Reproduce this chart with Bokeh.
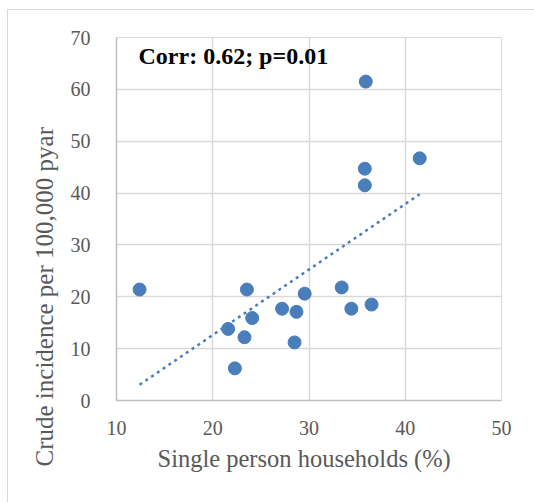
import numpy as np
from bokeh.plotting import figure
from bokeh.models import Label, FixedTicker, ColumnDataSource, Title
from bokeh.embed import file_html
from bokeh.resources import INLINE

# Data
single_person_pct = [12.4, 35.9, 35.8, 35.8, 41.5, 23.55, 21.6, 23.3, 24.1, 22.3,
                     27.2, 28.7, 28.5, 29.55, 33.4, 34.4, 36.5]
crude_incidence = [21.4, 61.5, 44.7, 41.5, 46.7, 21.4, 13.8, 12.2, 15.9, 6.2,
                   17.7, 17.1, 11.2, 20.6, 21.8, 17.7, 18.5]
x_ticks = [10, 20, 30, 40, 50]
y_ticks = [0, 10, 20, 30, 40, 50, 60, 70]
annotation_text = "Corr: 0.62; p=0.01"
x_title = "Single person households (%)"
y_title = "Crude incidence per 100,000 pyar"

BLUE = "#4a7ebb"
FONT = "Liberation Serif"

p = figure(width=534, height=502, x_range=(10, 50), y_range=(0, 70),
           output_backend="svg", toolbar_location=None,
           min_border_left=116, min_border_right=33,
           min_border_top=37, min_border_bottom=102)
# light grey chart-area border (left and top edges, as in the reference)
p.styles = {"background": "linear-gradient(#d9d9d9, #d9d9d9) 7px 9px / 1px 100% no-repeat, "
                          "linear-gradient(#d9d9d9, #d9d9d9) 7px 9px / 100% 1px no-repeat, white"}
p.border_fill_color = None
p.background_fill_color = "white"
p.outline_line_color = "#d9d9d9"

p.xaxis.axis_line_color = "#bfbfbf"
p.yaxis.axis_line_color = "#bfbfbf"
p.xaxis.axis_line_width = 1.5
p.yaxis.axis_line_width = 1.5
p.xaxis.major_tick_line_color = None
p.yaxis.major_tick_line_color = None
p.xaxis.minor_tick_line_color = None
p.yaxis.minor_tick_line_color = None
p.xaxis.major_label_text_font = FONT
p.yaxis.major_label_text_font = FONT
p.xaxis.major_label_text_font_style = "normal"
p.yaxis.major_label_text_font_style = "normal"
p.xaxis.major_label_text_font_size = "20px"
p.yaxis.major_label_text_font_size = "20px"
p.xaxis.major_label_text_color = "#595959"
p.yaxis.major_label_text_color = "#595959"

p.xaxis.ticker = FixedTicker(ticks=x_ticks)
p.yaxis.ticker = FixedTicker(ticks=y_ticks)
p.xaxis.major_label_standoff = 14
p.yaxis.major_label_standoff = 20

p.xgrid.ticker = FixedTicker(ticks=x_ticks)
p.ygrid.ticker = FixedTicker(ticks=y_ticks)
p.xgrid.grid_line_color = "#d9d9d9"
p.ygrid.grid_line_color = "#d9d9d9"
p.xgrid.grid_line_width = 1.5
p.ygrid.grid_line_width = 1.5

# Linear trendline (least squares fit of the data)
xs = np.array(single_person_pct)
ys = np.array(crude_incidence)
slope, intercept = np.polyfit(xs, ys, 1)
tx = [xs.min(), xs.max()]
ty = [slope * v + intercept for v in tx]
p.line(tx, ty, line_color=BLUE, line_width=2.5, line_dash="3 4")

src = ColumnDataSource(dict(x=single_person_pct, y=crude_incidence))
p.scatter("x", "y", source=src, size=13, fill_color=BLUE, line_color=BLUE)

p.add_layout(Label(x=22, y=332, x_units="screen", y_units="screen",
                   text=annotation_text, text_font=FONT, text_font_style="bold",
                   text_font_size="24px", text_color="black"))

p.add_layout(Title(text=y_title, align="left", offset=-66, standoff=20,
                   text_font=FONT, text_font_style="normal",
                   text_font_size="25px", text_color="#595959"), "left")

p.add_layout(Title(text=x_title, align="left", offset=41, standoff=10,
                   text_font=FONT, text_font_style="normal",
                   text_font_size="24.5px", text_color="#595959"), "below")

open("out.html", "w").write(file_html(p, INLINE))
